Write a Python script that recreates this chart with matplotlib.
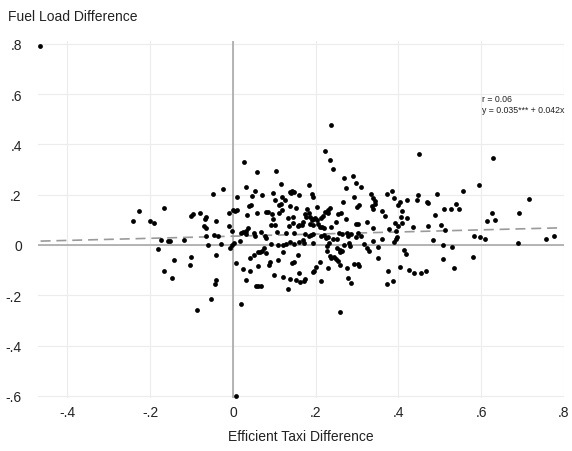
import matplotlib
matplotlib.use("Agg")
import matplotlib.pyplot as plt

plt.rcParams['font.family'] = ['Liberation Sans', 'DejaVu Sans']

# Efficient Taxi Difference (x) and Fuel Load Difference (y)
x_vals = [
    0.027, 0.057, 0.031, 0.053, -0.025, -0.048, 0.010, 0.046, 0.044, 0.039,
    -0.228, -0.167, -0.241, -0.201, -0.190, -0.097, -0.101, -0.079, -0.065, -0.068,
    -0.009, 0.001, 0.009, 0.004, 0.033, 0.057, -0.041, -0.071, -0.064, -0.010,
    -0.003, 0.036, 0.031, 0.025, 0.019, 0.031, 0.051, 0.053, -0.065, -0.046,
    -0.037, -0.174, -0.156, -0.152, -0.118, 0.016, -0.060, -0.029, 0.002, -0.002,
    -0.006, -0.180, -0.041, 0.060, 0.051, 0.042, -0.102, -0.103, -0.143, 0.008,
    -0.167, 0.024, 0.040, 0.061, -0.147, 0.031, -0.041, -0.043, 0.056, 0.060,
    -0.053, 0.019, -0.088,
    0.236, 0.222, 0.234, 0.242, 0.103, 0.268, 0.290, 0.297, 0.310, 0.272,
    0.117, 0.184, 0.069, 0.096, 0.139, 0.143, 0.147, 0.141, 0.160, 0.192,
    0.194, 0.293, 0.334, 0.338, 0.343, 0.344, 0.372, 0.385, 0.389, 0.421,
    0.119, 0.125, 0.116, 0.112, 0.102, 0.080, 0.085, 0.094, 0.097, 0.092,
    0.102, 0.112, 0.118, 0.138, 0.134, 0.146, 0.152, 0.180, 0.183, 0.174,
    0.203, 0.230, 0.235, 0.229, 0.253, 0.260, 0.265, 0.304, 0.300, 0.336,
    0.338, 0.361, 0.367, 0.399, 0.408, 0.421,
    0.176, 0.186, 0.190, 0.194, 0.199, 0.203, 0.212, 0.217, 0.223, 0.169,
    0.160, 0.156, 0.166, 0.146, 0.135, 0.187, 0.193, 0.205, 0.210, 0.215,
    0.220, 0.238, 0.249, 0.272, 0.297, 0.303, 0.324, 0.339, 0.378, 0.392,
    0.400, 0.394, 0.396,
    0.068, 0.106, 0.128, 0.147, 0.078, 0.080, 0.174, 0.183, 0.189, 0.194,
    0.212, 0.220, 0.225, 0.230, 0.241, 0.252, 0.257, 0.263, 0.275, 0.278,
    0.286, 0.297, 0.303, 0.309, 0.339, 0.359, 0.389, 0.393,
    0.092, 0.110, 0.121, 0.127, 0.139, 0.147, 0.159, 0.170, 0.172, 0.193,
    0.227, 0.233, 0.251, 0.259, 0.269, 0.280, 0.283, 0.317, 0.324, 0.329,
    0.351, 0.074, 0.071, 0.065, 0.122, 0.080, 0.158, 0.228, 0.234, 0.238,
    0.243, 0.248, 0.253, 0.259, 0.263, 0.351, 0.413, 0.419, 0.210, 0.148,
    0.143, 0.109, 0.089, 0.086, 0.201, 0.195, 0.194, 0.229, 0.292, 0.303,
    0.305, 0.275, 0.258, 0.160, 0.098, 0.122, 0.139, 0.152, 0.163, 0.173,
    0.172, 0.213, 0.278, 0.286, 0.374, 0.386, 0.373, 0.068, 0.133, 0.259,
    0.449, 0.628, 0.594, 0.557, 0.715, 0.404, 0.406, 0.408, 0.445, 0.448,
    0.470, 0.472, 0.492, 0.488, 0.511, 0.527, 0.539, 0.546, 0.625, 0.613,
    0.634, 0.691, 0.436, 0.471, 0.502, 0.512, 0.582, 0.597, 0.608, 0.484,
    0.508, 0.529, 0.690, 0.756, 0.776, 0.507, 0.581, 0.535, 0.404, 0.425,
    0.437, 0.454, 0.467,
    -0.466, 0.007,
]
y_vals = [
    0.331, 0.291, 0.229, 0.216, 0.221, 0.204, 0.192, 0.195, 0.159, 0.156,
    0.135, 0.147, 0.094, 0.094, 0.089, 0.124, 0.114, 0.126, 0.110, 0.103,
    0.126, 0.138, 0.138, 0.135, 0.120, 0.128, 0.094, 0.077, 0.066, 0.077,
    0.057, 0.066, 0.054, 0.050, 0.047, 0.044, 0.047, 0.037, 0.035, 0.040,
    0.036, 0.020, 0.017, 0.016, 0.019, 0.016, 0.000, 0.003, 0.008, 0.001,
    -0.012, -0.016, -0.039, -0.027, -0.040, -0.052, -0.049, -0.078, -0.061, -0.073,
    -0.105, -0.095, -0.102, -0.083, -0.131, -0.139, -0.140, -0.156, -0.164, -0.164,
    -0.216, -0.233, -0.260,
    0.478, 0.374, 0.337, 0.301, 0.294, 0.268, 0.276, 0.248, 0.231, 0.227,
    0.241, 0.239, 0.199, 0.207, 0.212, 0.215, 0.211, 0.206, 0.199, 0.204,
    0.192, 0.192, 0.203, 0.188, 0.176, 0.162, 0.204, 0.215, 0.187, 0.178,
    0.191, 0.180, 0.162, 0.159, 0.179, 0.132, 0.130, 0.124, 0.103, 0.080,
    0.080, 0.126, 0.139, 0.156, 0.107, 0.110, 0.146, 0.144, 0.128, 0.124,
    0.150, 0.138, 0.147, 0.128, 0.124, 0.127, 0.170, 0.159, 0.152, 0.154,
    0.142, 0.136, 0.114, 0.160, 0.135, 0.109,
    0.110, 0.110, 0.101, 0.103, 0.106, 0.099, 0.109, 0.117, 0.130, 0.093,
    0.080, 0.074, 0.081, 0.089, 0.077, 0.083, 0.080, 0.083, 0.070, 0.072,
    0.066, 0.072, 0.090, 0.103, 0.083, 0.085, 0.090, 0.066, 0.062, 0.087,
    0.074, 0.054, 0.031,
    0.053, 0.050, 0.047, 0.047, 0.037, 0.029, 0.045, 0.037, 0.041, 0.044,
    0.037, 0.040, 0.027, 0.033, 0.024, 0.024, 0.048, 0.045, 0.047, 0.035,
    0.044, 0.033, 0.047, 0.037, 0.017, 0.024, 0.013, 0.024,
    0.003, 0.001, 0.001, 0.005, 0.011, 0.003, 0.012, 0.019, 0.008, 0.008,
    -0.004, 0.007, -0.011, -0.020, 0.001, 0.007, -0.004, 0.003, -0.011, -0.023,
    -0.009, -0.011, -0.023, -0.029, -0.027, -0.032, -0.040, -0.024, -0.043, -0.052,
    -0.049, -0.057, -0.062, -0.029, -0.024, -0.052, -0.019, -0.036, -0.066, -0.069,
    -0.073, -0.060, -0.069, -0.078, -0.086, -0.102, -0.109, -0.093, -0.076, -0.074,
    -0.083, -0.091, -0.078, -0.110, -0.119, -0.127, -0.136, -0.139, -0.148, -0.136,
    -0.144, -0.144, -0.130, -0.151, -0.102, -0.142, -0.155, -0.164, -0.176, -0.268,
    0.361, 0.346, 0.240, 0.215, 0.184, 0.170, 0.110, 0.089, 0.180, 0.200,
    0.172, 0.168, 0.202, 0.120, 0.142, 0.144, 0.162, 0.143, 0.126, 0.097,
    0.101, 0.127, 0.073, 0.077, 0.081, 0.060, 0.037, 0.033, 0.024, 0.019,
    0.001, -0.009, 0.009, 0.023, 0.036, -0.056, -0.047, -0.090, -0.086, -0.098,
    -0.111, -0.111, -0.105,
    0.790, -0.600,
]

# Fitted line
fit_intercept = 0.035
fit_slope = 0.042
fit_range = [-0.465, 0.79]

x_ticks = [-0.4, -0.2, 0, 0.2, 0.4, 0.6, 0.8]
x_tick_labels = ["-.4", "-.2", "0", ".2", ".4", ".6", ".8"]
y_ticks = [-0.6, -0.4, -0.2, 0, 0.2, 0.4, 0.6, 0.8]
y_tick_labels = ["-.6", "-.4", "-.2", "0", ".2", ".4", ".6", ".8"]

annotation = "r = 0.06\ny = 0.035*** + 0.042x"

fig = plt.figure(figsize=(5.72, 4.52), dpi=100)
ax = fig.add_axes([0.0673, 0.1164, 0.9187, 0.790])

for t in x_ticks:
    ax.axvline(t, color='#ececec', lw=0.8, zorder=0)
for t in y_ticks:
    ax.axhline(t, color='#ececec', lw=0.8, zorder=0)
ax.axhline(0, color='#a8a8a8', lw=1.2, zorder=1)
ax.axvline(0, color='#a8a8a8', lw=1.2, zorder=1)

fx = fit_range
fy = [fit_intercept + fit_slope * v for v in fx]
ax.plot(fx, fy, color='#9a9a9a', lw=1.2, linestyle=(0, (6, 3.5)), zorder=2)

ax.scatter(x_vals, y_vals, s=12, color='black', linewidths=0, zorder=3)

ax.set_xlim(-0.47, 0.80)
ax.set_ylim(-0.61, 0.81)
ax.set_xticks(x_ticks)
ax.set_xticklabels(x_tick_labels)
ax.set_yticks(y_ticks)
ax.set_yticklabels(y_tick_labels)
ax.tick_params(length=0, labelsize=10, colors='#222222')
ax.tick_params(axis='y', pad=12)
ax.tick_params(axis='x', pad=5)
for s in ax.spines.values():
    s.set_visible(False)

ax.text(0.602, 0.60, annotation, fontsize=6.3, va='top', ha='left',
        color='#222222', linespacing=1.3)

fig.text(8 / 572, 1 - 17 / 452, "Fuel Load Difference", fontsize=10,
         ha='left', va='center', color='#222222')
fig.text(301 / 572, 1 - 437 / 452, "Efficient Taxi Difference", fontsize=10,
         ha='center', va='center', color='#222222')

fig.savefig("out.png", dpi=100)
